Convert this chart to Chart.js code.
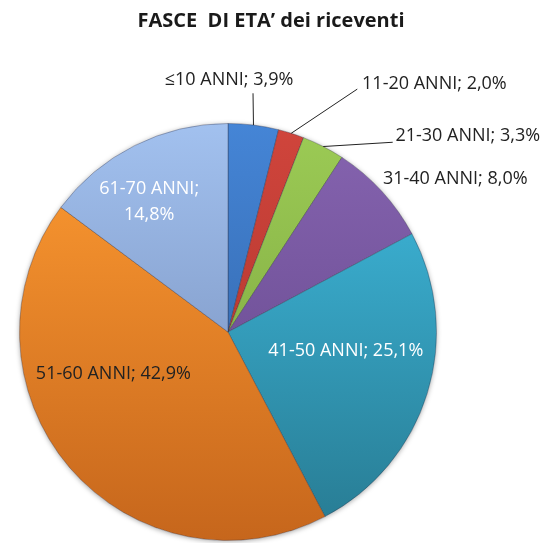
<!DOCTYPE html>
<html>
<head>
<meta charset="utf-8">
<script src="https://cdn.jsdelivr.net/npm/chart.js@4"></script>
<style>
    html, body { margin: 0; padding: 0; background: #fff; }
    #wrap { width: 558px; height: 543px; }
</style>
</head>
<body>
<div id="wrap"><canvas id="pie"></canvas></div>
<script>
const titleText = "FASCE  DI ETA\u2019 dei riceventi";
const ageLabels = ["\u226410 ANNI", "11-20 ANNI", "21-30 ANNI", "31-40 ANNI", "41-50 ANNI", "51-60 ANNI", "61-70 ANNI"];
const percentValues = [3.9, 2.0, 3.3, 8.0, 25.1, 42.9, 14.8];

// gradient colours, top -> bottom of the pie
const topColors = ["#4585d6", "#d0453c", "#9ccb55", "#8664b0", "#40bde2", "#ff9c32", "#a2c1ef"];
const bottomColors = ["#2c5c9c", "#a63029", "#769e3b", "#5f4386", "#277a91", "#c6661c", "#6f86b2"];

// label placement, in units of the radius from the pie centre
const labelPlace = [
    { pos: [0.005, -1.21], line: [0.12, -1.145], color: "#222" },
    { pos: [0.99, -1.19], line: [0.62, -1.165], color: "#222" },
    { pos: [1.15, -0.94], line: [0.79, -0.91], color: "#222" },
    { pos: [1.09, -0.735], line: null, color: "#222" },
    { pos: [0.565, 0.09], line: null, color: "#fff" },
    { pos: [-0.55, 0.2], line: null, color: "#222" },
    { pos: [-0.378, -0.625], line: null, color: "#fff", split: true }
];

function fmt(v) {
    return v.toFixed(1).replace(".", ",") + "%";
}

function sliceGradient(context) {
    const chart = context.chart;
    const area = chart.chartArea;
    if (!area) return topColors[context.dataIndex];
    const g = chart.ctx.createLinearGradient(0, area.top, 0, area.bottom);
    g.addColorStop(0, topColors[context.dataIndex]);
    g.addColorStop(1, bottomColors[context.dataIndex]);
    return g;
}

const labelPlugin = {
    id: "sliceLabels",
    beforeDatasetsDraw(chart) {
        // soft shadow under the pie
        const ctx = chart.ctx;
        ctx.save();
        ctx.shadowColor = "rgba(0,0,0,0.35)";
        ctx.shadowBlur = 5;
        ctx.shadowOffsetY = 1;
        const arc = chart.getDatasetMeta(0).data[0];
        ctx.beginPath();
        ctx.arc(arc.x, arc.y, arc.outerRadius, 0, Math.PI * 2);
        ctx.fillStyle = "#fff";
        ctx.fill();
        ctx.restore();
    },
    afterDatasetsDraw(chart) {
        const ctx = chart.ctx;
        const meta = chart.getDatasetMeta(0);
        ctx.save();

        // title
        ctx.font = "bold 20px 'Open Sans', sans-serif";
        ctx.fillStyle = "#1a1a1a";
        ctx.textAlign = "center";
        ctx.textBaseline = "middle";
        ctx.fillText(titleText, 271, 21);

        ctx.font = "18px 'Open Sans', sans-serif";
        meta.data.forEach((arc, i) => {
            const cx = arc.x, cy = arc.y, r = arc.outerRadius;
            const p = labelPlace[i];
            const tx = cx + p.pos[0] * r;
            const ty = cy + p.pos[1] * r;

            if (p.line) {
                const mid = (arc.startAngle + arc.endAngle) / 2;
                ctx.beginPath();
                ctx.moveTo(cx + Math.cos(mid) * r, cy + Math.sin(mid) * r);
                ctx.lineTo(cx + p.line[0] * r, cy + p.line[1] * r);
                ctx.strokeStyle = "#222";
                ctx.lineWidth = 1;
                ctx.stroke();
            }

            ctx.fillStyle = p.color;
            if (p.split) {
                ctx.fillText(ageLabels[i] + ";", tx, ty - 13);
                ctx.fillText(fmt(percentValues[i]), tx, ty + 13);
            } else {
                ctx.fillText(ageLabels[i] + "; " + fmt(percentValues[i]), tx, ty);
            }
        });
        ctx.restore();
    }
};

new Chart(document.getElementById("pie"), {
    type: "pie",
    data: {
        labels: ageLabels,
        datasets: [{
            data: percentValues,
            backgroundColor: sliceGradient,
            borderColor: "rgba(40,40,60,0.35)",
            borderWidth: 1
        }]
    },
    options: {
        responsive: true,
        maintainAspectRatio: false,
        animation: false,
        layout: {
            padding: { left: 19, right: 121, top: 123, bottom: 2 }
        },
        plugins: {
            legend: { display: false },
            tooltip: { enabled: false },
            title: { display: false }
        }
    },
    plugins: [labelPlugin]
});
</script>
</body>
</html>
